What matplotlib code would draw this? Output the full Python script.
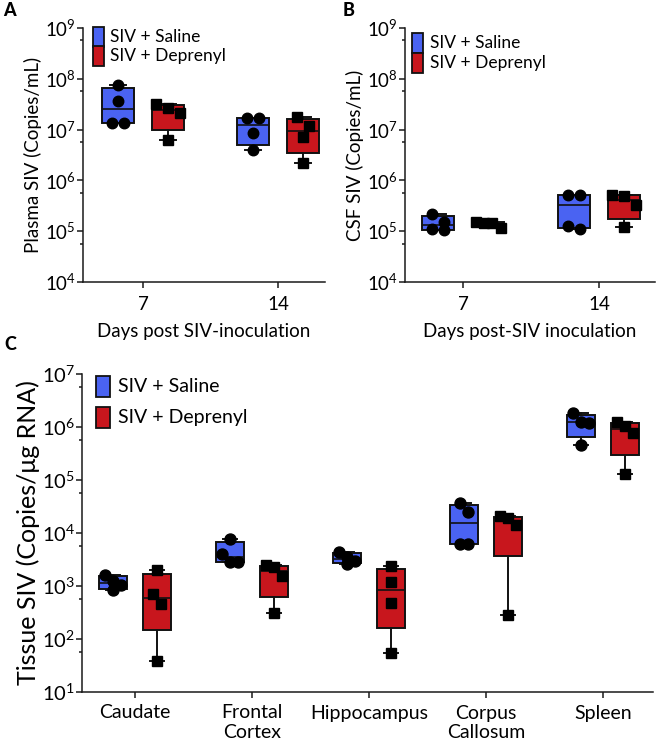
import numpy as np
import matplotlib
matplotlib.use("Agg")
from matplotlib import pyplot as plt
from matplotlib.patches import Rectangle
from matplotlib.ticker import FixedLocator, NullFormatter, FuncFormatter

plt.rcParams["font.family"] = ["Lato", "DejaVu Sans"]
plt.rcParams["mathtext.default"] = "regular"

# data, one list of 4 animals per group
days = ["7", "14"]
plasma_saline = [[7.55e7, 3.7e7, 1.37e7, 1.37e7], [1.67e7, 1.67e7, 8.4e6, 3.96e6]]
plasma_deprenyl = [[3.14e7, 2.63e7, 2.15e7, 6.2e6], [1.75e7, 1.2e7, 7.2e6, 2.24e6]]
csf_saline = [[2.18e5, 1.55e5, 1.13e5, 1.06e5], [5.27e5, 5.16e5, 1.27e5, 1.12e5]]
csf_deprenyl = [[1.55e5, 1.47e5, 1.42e5, 1.14e5], [5.16e5, 5.0e5, 3.28e5, 1.23e5]]

tissues = ["Caudate", "Frontal\nCortex", "Hippocampus", "Corpus\nCallosum", "Spleen"]
tissue_saline = [[1600, 1250, 1050, 830],
                 [7850, 4090, 2850, 2850],
                 [4300, 3600, 3000, 2600],
                 [37600, 24400, 6140, 6140],
                 [1.81e6, 1.25e6, 1.2e6, 4.57e5]]
tissue_deprenyl = [[1980, 698, 466, 37.8],
                   [2450, 2250, 1530, 315],
                   [2400, 1190, 479, 55],
                   [20500, 19000, 14000, 288],
                   [1.25e6, 1.04e6, 7.8e5, 1.29e5]]

groups = ["SIV + Saline", "SIV + Deprenyl"]
BLUE = "#4a63f2"
RED = "#c8161d"
EDGE = "#111111"
DPI = 100
W, H = 660, 743


def box_stats(vals):
    v = np.asarray(vals, dtype=float)
    q1, med, q3 = np.percentile(v, [25, 50, 75], method="weibull")
    return dict(med=med, q1=q1, q3=q3, whislo=v.min(), whishi=v.max(), fliers=[])


def swarm(vals, px_decade, px_x, diam, step):
    # put points that overlap vertically side by side, like a dot plot
    order = np.argsort(vals)[::-1]
    logs = np.log10(vals)
    rows = []
    for i in order:
        if rows and (logs[rows[-1][0]] - logs[i]) * px_decade < diam:
            rows[-1].append(i)
        else:
            rows.append([i])
    offs = np.zeros(len(vals))
    for row in rows:
        n = len(row)
        st = step if n < 4 else step * 0.7
        for j, i in enumerate(row):
            offs[i] = (j - (n - 1) / 2) * st / px_x
    return offs


def style_axis(ax, lo, hi):
    ax.set_yscale("log")
    ax.set_ylim(10**lo, 10**hi)
    ax.yaxis.set_major_locator(FixedLocator([10.0**k for k in range(lo, hi + 1)]))
    ax.yaxis.set_minor_locator(FixedLocator([10.0**(k - 0.245) for k in range(lo + 1, hi + 1)]))
    ax.yaxis.set_minor_formatter(NullFormatter())
    ax.yaxis.set_major_formatter(FuncFormatter(lambda v, p: r"$10^{%d}$" % round(np.log10(v))))
    for s in ["top", "right"]:
        ax.spines[s].set_visible(False)
    for s in ["left", "bottom"]:
        ax.spines[s].set_linewidth(1.1)
        ax.spines[s].set_color("#1a1a1a")
    ax.tick_params(which="major", length=4, width=1.1, color="#1a1a1a")
    ax.tick_params(which="minor", length=2.5, width=1.1, color="#1a1a1a")
    ax.tick_params(axis="x", which="minor", length=0)


def draw_groups(ax, series, colors, markers, offset, width, msize, step):
    pos = ax.get_position()
    lo, hi = [np.log10(v) for v in ax.get_ylim()]
    px_decade = pos.height * H / (hi - lo)
    xl = ax.get_xlim()
    px_x = pos.width * W / (xl[1] - xl[0])
    for k, (data, col, mk) in enumerate(zip(series, colors, markers)):
        sgn = -1 if k == 0 else 1
        for i, vals in enumerate(data):
            x = i + sgn * offset
            ax.bxp([box_stats(vals)], positions=[x], widths=width, patch_artist=True,
                   showfliers=False, manage_ticks=False, capwidths=width * 0.5,
                   boxprops=dict(facecolor=col, edgecolor=EDGE, linewidth=1.4),
                   medianprops=dict(color=EDGE, linewidth=1.2),
                   whiskerprops=dict(color=EDGE, linewidth=1.4),
                   capprops=dict(color=EDGE, linewidth=1.4))
            offs = swarm(np.asarray(vals, dtype=float), px_decade, px_x, msize, step)
            ax.plot(x + offs, vals, linestyle="none", marker=mk, color="black",
                    markersize=msize * 0.72 * (0.9 if mk == "s" else 1.0), zorder=4)


def legend_boxes(fig, x0, y0, w, h, gap, tx, fontsize):
    # hand-drawn key, in figure pixels from the top left
    for j, (col, lab) in enumerate(zip([BLUE, RED], groups)):
        top = y0 + j * (h + gap)
        fig.patches.append(Rectangle((x0 / W, 1 - (top + h) / H), w / W, h / H,
                                     transform=fig.transFigure, facecolor=col,
                                     edgecolor=EDGE, linewidth=1.3))
        fig.text(tx / W, 1 - (top + h / 2) / H, lab, fontsize=fontsize,
                 va="center", ha="left")


fig = plt.figure(figsize=(W / DPI, H / DPI), dpi=DPI)

axA = fig.add_axes([83 / W, 1 - 282 / H, 242 / W, 254 / H])
axB = fig.add_axes([405 / W, 1 - 282 / H, 250 / W, 254 / H])
axC = fig.add_axes([82 / W, 1 - 692 / H, 571 / W, 318 / H])

axA.set_xlim(-0.444, 1.348)
axB.set_xlim(-0.426, 1.41)
axC.set_xlim(-0.453, 4.427)

for ax in (axA, axB):
    style_axis(ax, 4, 9)
style_axis(axC, 1, 7)

draw_groups(axA, [plasma_saline, plasma_deprenyl], [BLUE, RED], ["o", "s"], 0.185, 0.237, 10.5, 12)
draw_groups(axB, [csf_saline, csf_deprenyl], [BLUE, RED], ["o", "s"], 0.185, 0.235, 10.5, 12)
draw_groups(axC, [tissue_saline, tissue_deprenyl], [BLUE, RED], ["o", "s"], 0.188, 0.24, 11, 8)

for ax, lab, xlab in [(axA, "Plasma SIV (Copies/mL)", "Days post SIV-inoculation"),
                      (axB, "CSF SIV (Copies/mL)", "Days post-SIV inoculation")]:
    ax.set_xticks(range(len(days)))
    ax.set_xticklabels(days, fontsize=13.5)
    ax.tick_params(axis="y", labelsize=13.5, pad=1)
    ax.tick_params(axis="x", pad=6)
    ax.set_ylabel(lab, fontsize=13.5, labelpad=2)
    ax.set_xlabel(xlab, fontsize=13.5, labelpad=7)

legend_boxes(fig, 93, 27, 10.5, 19.5, 0, 110, 12.5)
legend_boxes(fig, 412, 33, 11, 20, 0, 430, 12.5)
legend_boxes(fig, 96, 376, 14, 21, 10, 118, 14)

axC.set_xticks(range(len(tissues)))
axC.set_xticklabels(tissues, fontsize=14, linespacing=1.15)
axC.tick_params(axis="y", labelsize=14.5, pad=1)
axC.tick_params(axis="x", pad=5)
axC.set_ylabel("Tissue SIV (Copies/\u03bcg RNA)", fontsize=18, labelpad=1)

fig.text(3 / W, 1 - 10 / H, "A", fontsize=13, fontweight="black", va="center", ha="left")
fig.text(343 / W, 1 - 10 / H, "B", fontsize=13, fontweight="black", va="center", ha="left")
fig.text(4 / W, 1 - 345 / H, "C", fontsize=13, fontweight="black", va="center", ha="left")

fig.savefig("out.png", dpi=DPI)
